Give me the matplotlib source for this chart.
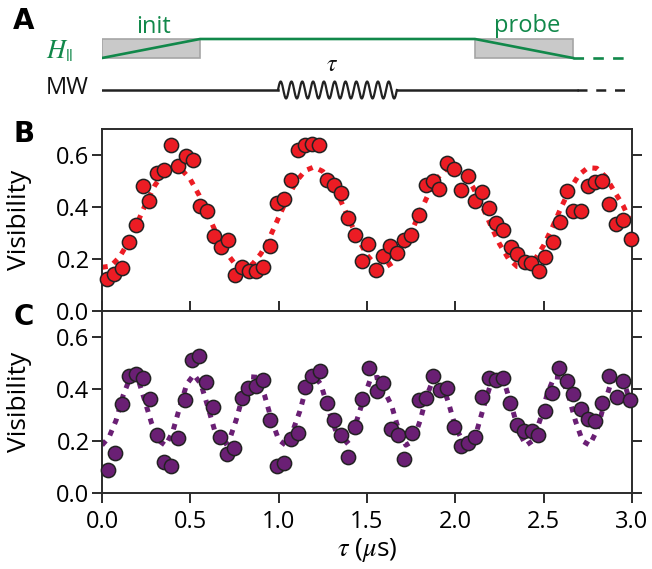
import numpy as np
import matplotlib.pyplot as plt
from matplotlib.patches import Rectangle

plt.rcParams['font.family'] = ['Open Sans', 'DejaVu Sans']

# panel B: red data + fit
tau_b = [0.030, 0.068, 0.111, 0.153, 0.192, 0.230, 0.268, 0.309, 0.351, 0.392,
         0.430, 0.473, 0.513, 0.555, 0.592, 0.634, 0.675, 0.711, 0.753,
         0.790, 0.832, 0.872, 0.913, 0.951, 0.992, 1.032, 1.071, 1.109, 1.149,
         1.188, 1.230, 1.271, 1.313, 1.351, 1.390, 1.430, 1.470, 1.507,
         1.551, 1.588, 1.630, 1.671, 1.709, 1.751, 1.792, 1.834, 1.871, 1.909,
         1.951, 1.992, 2.030, 2.071, 2.113, 2.151, 2.188, 2.230, 2.271, 2.313,
         2.350, 2.392, 2.430, 2.471, 2.509, 2.551, 2.592, 2.630, 2.667, 2.709,
         2.750, 2.788, 2.830, 2.867, 2.909, 2.950, 2.992]
vis_b = [0.123, 0.143, 0.164, 0.264, 0.329, 0.481, 0.424, 0.529, 0.543, 0.640,
         0.558, 0.597, 0.579, 0.404, 0.386, 0.288, 0.246, 0.275, 0.139,
         0.169, 0.152, 0.152, 0.171, 0.251, 0.417, 0.429, 0.502, 0.620, 0.640,
         0.643, 0.640, 0.502, 0.486, 0.453, 0.357, 0.293, 0.192, 0.259,
         0.156, 0.210, 0.251, 0.223, 0.272, 0.293, 0.371, 0.486, 0.499, 0.471,
         0.569, 0.545, 0.465, 0.520, 0.422, 0.458, 0.398, 0.339, 0.311, 0.246,
         0.221, 0.187, 0.184, 0.152, 0.208, 0.267, 0.342, 0.462, 0.383, 0.383,
         0.481, 0.496, 0.500, 0.411, 0.334, 0.349, 0.277]

fit_tau_b = np.linspace(0, 3, 61)
fit_b = [0.168, 0.173, 0.208, 0.266, 0.339, 0.416, 0.484, 0.532, 0.553, 0.544,
         0.506, 0.445, 0.370, 0.294, 0.228, 0.183, 0.166, 0.179, 0.221, 0.284,
         0.360, 0.435, 0.499, 0.540, 0.554, 0.537, 0.492, 0.426, 0.350, 0.276,
         0.215, 0.176, 0.167, 0.188, 0.236, 0.303, 0.380, 0.453, 0.512, 0.547,
         0.552, 0.528, 0.476, 0.407, 0.330, 0.258, 0.202, 0.171, 0.169, 0.198,
         0.252, 0.323, 0.400, 0.470, 0.524, 0.551, 0.549, 0.517, 0.460, 0.405,
         0.330]

# panel C: purple data + fit
tau_c = [0.036, 0.074, 0.111, 0.155, 0.192, 0.230, 0.272, 0.313, 0.351, 0.391,
         0.430, 0.472, 0.511, 0.551, 0.589, 0.630, 0.668, 0.709, 0.749,
         0.790, 0.828, 0.870, 0.911, 0.951, 0.989, 1.030, 1.070, 1.111, 1.149,
         1.190, 1.232, 1.272, 1.311, 1.351, 1.390, 1.432, 1.471, 1.511,
         1.555, 1.592, 1.634, 1.675, 1.711, 1.753, 1.792, 1.832, 1.871, 1.913,
         1.951, 1.992, 2.030, 2.070, 2.111, 2.151, 2.190, 2.230, 2.268,
         2.309, 2.349, 2.390, 2.432, 2.469, 2.507, 2.548, 2.588, 2.630, 2.667,
         2.711, 2.749, 2.790, 2.832, 2.871, 2.913, 2.950, 2.988]
vis_c = [0.090, 0.152, 0.342, 0.449, 0.459, 0.442, 0.361, 0.223, 0.120, 0.103,
         0.213, 0.359, 0.511, 0.526, 0.427, 0.330, 0.217, 0.150, 0.172,
         0.365, 0.404, 0.410, 0.436, 0.281, 0.103, 0.116, 0.206, 0.232, 0.406,
         0.449, 0.470, 0.346, 0.279, 0.223, 0.139, 0.253, 0.362, 0.481,
         0.391, 0.423, 0.245, 0.223, 0.129, 0.232, 0.359, 0.365, 0.451, 0.395,
         0.402, 0.255, 0.181, 0.193, 0.214, 0.371, 0.442, 0.433, 0.442,
         0.346, 0.262, 0.240, 0.240, 0.223, 0.316, 0.384, 0.480, 0.431, 0.382,
         0.323, 0.284, 0.277, 0.346, 0.451, 0.371, 0.431, 0.359]

fit_tau_c = np.linspace(0, 3, 76)
fit_c = [0.184, 0.215, 0.280, 0.376, 0.445, 0.447, 0.360, 0.270, 0.202, 0.183,
         0.235, 0.330, 0.419, 0.455, 0.419, 0.330, 0.235, 0.183, 0.202, 0.282,
         0.381, 0.447, 0.445, 0.376, 0.280, 0.205, 0.184, 0.239, 0.315, 0.415,
         0.455, 0.416, 0.325, 0.245, 0.182, 0.205, 0.275, 0.360, 0.440, 0.445,
         0.390, 0.335, 0.239, 0.184, 0.200, 0.277, 0.377, 0.445, 0.430, 0.350,
         0.255, 0.202, 0.183, 0.235, 0.330, 0.419, 0.455, 0.419, 0.330, 0.235,
         0.183, 0.202, 0.282, 0.381, 0.447, 0.445, 0.376, 0.277, 0.200, 0.184,
         0.239, 0.335, 0.422, 0.455, 0.416, 0.325]

yticks = [0.0, 0.2, 0.4, 0.6]
xticks = [0.0, 0.5, 1.0, 1.5, 2.0, 2.5, 3.0]

green = '#11884a'
red = '#ec1c24'
purple = '#6a1f74'
spine_col = '#2b2b2b'

W, H = 652, 569
fig = plt.figure(figsize=(6.52, 5.69), dpi=100)


def box(left, top, w, h):
    return [left / W, 1 - (top + h) / H, w / W, h / H]


ax_a = fig.add_axes(box(102, 0, 530, 110))
ax_b = fig.add_axes(box(102, 129, 530, 182))
ax_c = fig.add_axes(box(102, 311, 530, 182))

# ---- panel A: pulse scheme (y in pixel units, pointing down)
ax_a.set_xlim(0, 3)
ax_a.set_ylim(110, 0)
ax_a.axis('off')

for x0, x1 in [(0.0, 0.555), (2.111, 2.666)]:
    ax_a.add_patch(Rectangle((x0, 39), x1 - x0, 19, facecolor='#c9c9c9',
                             edgecolor='#a5a5a5', lw=1.2, zorder=1))
ax_a.plot([0.0, 0.555, 2.111, 2.666], [58, 39, 39, 58], color=green, lw=1.9,
          zorder=2)
ax_a.plot([2.666, 2.99], [58, 58], color=green, lw=1.9, dashes=(4, 3.5))

ax_a.plot([0.0, 0.996], [90, 90], color='#222222', lw=1.8)
sq = np.linspace(0, 1, 400)
ax_a.plot(0.996 + sq * (1.669 - 0.996), 90 - 8.5 * np.sin(2 * np.pi * 11 * sq),
          color='#222222', lw=1.6)
ax_a.plot([1.669, 2.69], [90, 90], color='#222222', lw=1.8)
ax_a.plot([2.69, 2.99], [90, 90], color='#222222', lw=1.8, dashes=(4, 3.5))

ax_a.text(0.294, 27, 'init', color=green, fontsize=17, ha='center',
          va='center')
ax_a.text(2.406, 26, 'probe', color=green, fontsize=17, ha='center',
          va='center')
ax_a.text(-0.238, 52, r'$H_{||}$', color=green, fontsize=19, ha='center',
          va='center', math_fontfamily='stix', clip_on=False)
ax_a.text(-0.198, 88, 'MW', color='#111111', fontsize=17, ha='center',
          va='center', clip_on=False)
ax_a.text(1.302, 65, r'$\tau$', color='#111111', fontsize=17, ha='center',
          va='center', math_fontfamily='stix')

# ---- panels B and C
for ax, tx, ty, fx, fy, col in [(ax_b, tau_b, vis_b, fit_tau_b, fit_b, red),
                                (ax_c, tau_c, vis_c, fit_tau_c, fit_c, purple)]:
    ax.plot(fx, fy, color=col, lw=3.6, linestyle=(0, (1.15, 1.35)),
            dash_capstyle='butt', zorder=2)
    ax.scatter(tx, ty, s=105, color=col, edgecolors='#222222', linewidths=1.1,
               zorder=3, clip_on=False)
    ax.set_xlim(0, 3)
    ax.set_ylim(0, 0.7)
    ax.set_yticks(yticks)
    ax.set_yticklabels(['%.1f' % v for v in yticks])
    ax.set_xticks(xticks)
    for s in ax.spines.values():
        s.set_color(spine_col)
        s.set_linewidth(1.4)
    ax.tick_params(axis='y', which='both', direction='out', length=7,
                   width=1.4, color=spine_col, labelsize=17, pad=2,
                   right=True, labelright=False)
    ax.set_ylabel('Visibility', fontsize=19)
    ax.yaxis.set_label_coords(-0.133, 0.5)

ax_b.tick_params(axis='x', direction='in', length=7, width=1.4,
                 color=spine_col, labelbottom=False)
ax_c.tick_params(axis='x', direction='out', length=7, width=1.4,
                 color=spine_col, labelsize=17, pad=5)
ax_c.set_xticklabels(['%.1f' % v for v in xticks])
ax_c.set_xlabel(r'$\tau$ ($\mu$s)', fontsize=19, labelpad=2,
                math_fontfamily='stix')

for lbl, (px, py) in zip(['A', 'B', 'C'], [(24, 21), (24, 134), (24, 317)]):
    fig.text(px / W, 1 - py / H, lbl, fontsize=20, fontweight='bold',
             ha='center', va='center',
             family=['Liberation Sans Narrow', 'DejaVu Sans'])

fig.savefig('out.png', dpi=100)
